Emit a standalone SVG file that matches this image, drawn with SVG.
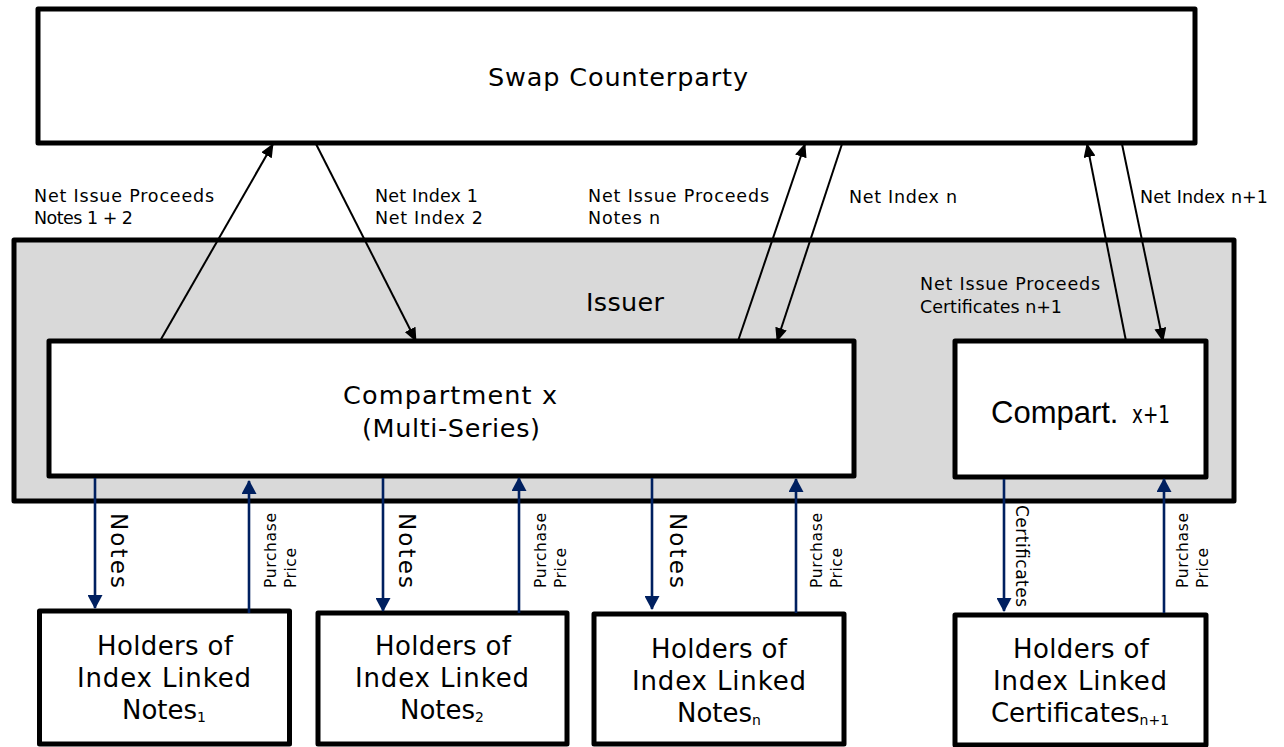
<svg xmlns="http://www.w3.org/2000/svg" width="1284" height="747" viewBox="0 0 1284 747">
<style>
.box{fill:#ffffff;stroke:#000000;stroke-width:5;stroke-linejoin:round}
.issuer{fill:#d9d9d9;stroke:#000000;stroke-width:5;stroke-linejoin:round}
.t{font-family:"DejaVu Sans","Noto Sans",sans-serif;fill:#000000}
.big{font-size:25.5px}
.hold{font-size:26px}
.lbl{font-size:17.5px}
.sm{font-size:15.5px}
.blk{stroke:#000000;stroke-width:2;fill:none}
.blu{stroke:#002060;stroke-width:2.6;fill:none}
</style>
<defs>
<marker id="ah" viewBox="0 0 14 12" markerWidth="14" markerHeight="12" refX="13" refY="6" orient="auto" markerUnits="userSpaceOnUse"><path d="M0,0 L14,6 L0,12 z" fill="#000000"/></marker>
<marker id="bh" viewBox="0 0 14 15" markerWidth="14" markerHeight="15" refX="13" refY="7.5" orient="auto" markerUnits="userSpaceOnUse"><path d="M0,0 L14,7.5 L0,15 z" fill="#002060"/></marker>
</defs>

<g id="swap">
<rect class="box" x="38" y="9" width="1157" height="134"/>
<text class="t big" x="618" y="86" text-anchor="middle" textLength="260" lengthAdjust="spacing">Swap Counterparty</text>
</g>

<g id="issuer">
<rect class="issuer" x="14" y="240" width="1220" height="261"/>
<text class="t big" x="625" y="311" text-anchor="middle" textLength="78" lengthAdjust="spacing">Issuer</text>
</g>

<g id="compartment-x">
<rect class="box" x="49" y="341" width="805" height="135"/>
<text class="t big" x="450" y="404" text-anchor="middle" textLength="214" lengthAdjust="spacing">Compartment x</text>
<text class="t big" x="451" y="437" text-anchor="middle" textLength="178" lengthAdjust="spacing">(Multi-Series)</text>
</g>

<g id="compartment-x1">
<rect class="box" x="955" y="341" width="251" height="136"/>
<text x="991" y="423" style="font-family:'Liberation Sans',Arial,sans-serif;font-size:31px" fill="#000000">Compart.</text>
<text class="t" x="1132" y="423" style="font-size:24px" textLength="38" lengthAdjust="spacingAndGlyphs">x+1</text>
</g>

<g id="holders-1">
<rect class="box" x="39.5" y="611" width="250" height="133"/>
<text class="t hold" x="165" y="655" text-anchor="middle" textLength="136" lengthAdjust="spacing">Holders of</text>
<text class="t hold" x="164" y="687" text-anchor="middle" textLength="174" lengthAdjust="spacing">Index Linked</text>
<text class="t hold" x="164" y="719" text-anchor="middle">Notes<tspan font-size="14" dy="3">1</tspan></text>
</g>

<g id="holders-2">
<rect class="box" x="318" y="613" width="249" height="131"/>
<text class="t hold" x="443" y="655" text-anchor="middle" textLength="136" lengthAdjust="spacing">Holders of</text>
<text class="t hold" x="442" y="687" text-anchor="middle" textLength="174" lengthAdjust="spacing">Index Linked</text>
<text class="t hold" x="442" y="719" text-anchor="middle">Notes<tspan font-size="14" dy="3">2</tspan></text>
</g>

<g id="holders-n">
<rect class="box" x="594" y="614" width="250" height="130"/>
<text class="t hold" x="719" y="658" text-anchor="middle" textLength="136" lengthAdjust="spacing">Holders of</text>
<text class="t hold" x="719" y="690" text-anchor="middle" textLength="174" lengthAdjust="spacing">Index Linked</text>
<text class="t hold" x="719" y="722" text-anchor="middle">Notes<tspan font-size="14" dy="3">n</tspan></text>
</g>

<g id="holders-n1">
<rect class="box" x="955" y="615" width="251" height="130"/>
<text class="t hold" x="1081" y="658" text-anchor="middle" textLength="136" lengthAdjust="spacing">Holders of</text>
<text class="t hold" x="1080" y="690" text-anchor="middle" textLength="174" lengthAdjust="spacing">Index Linked</text>
<text class="t hold" x="1080" y="722" text-anchor="middle">Certificates<tspan font-size="14" dy="3">n+1</tspan></text>
</g>

<g id="connectors">
<path class="blk" d="M160,341 L273,144" marker-end="url(#ah)"/>
<path class="blk" d="M316,144 L416,341" marker-end="url(#ah)"/>
<path class="blk" d="M738,341 L805,144" marker-end="url(#ah)"/>
<path class="blk" d="M842,144 L777,341" marker-end="url(#ah)"/>
<path class="blk" d="M1126,341 L1087,144" marker-end="url(#ah)"/>
<path class="blk" d="M1122,144 L1163,341" marker-end="url(#ah)"/>

<path class="blu" d="M95,478 L95,608" marker-end="url(#bh)"/>
<path class="blu" d="M249,613 L249,481" marker-end="url(#bh)"/>
<path class="blu" d="M383,478 L383,611" marker-end="url(#bh)"/>
<path class="blu" d="M519,613 L519,478" marker-end="url(#bh)"/>
<path class="blu" d="M652,478 L652,609" marker-end="url(#bh)"/>
<path class="blu" d="M796,613 L796,479" marker-end="url(#bh)"/>
<path class="blu" d="M1004,479 L1004,611" marker-end="url(#bh)"/>
<path class="blu" d="M1164,613 L1164,479" marker-end="url(#bh)"/>

<text class="t lbl" x="34" y="202" textLength="180" lengthAdjust="spacing">Net Issue Proceeds</text>
<text class="t lbl" x="34" y="224" textLength="99" lengthAdjust="spacing">Notes 1 + 2</text>
<text class="t lbl" x="375" y="202" textLength="103" lengthAdjust="spacing">Net Index 1</text>
<text class="t lbl" x="375" y="224" textLength="108" lengthAdjust="spacing">Net Index 2</text>
<text class="t lbl" x="588" y="202" textLength="181" lengthAdjust="spacing">Net Issue Proceeds</text>
<text class="t lbl" x="588" y="224" textLength="72" lengthAdjust="spacing">Notes n</text>
<text class="t lbl" x="849" y="203" textLength="108" lengthAdjust="spacing">Net Index n</text>
<text class="t lbl" x="1140" y="203" textLength="128" lengthAdjust="spacing">Net Index n+1</text>
<text class="t lbl" x="920" y="290" textLength="180" lengthAdjust="spacing">Net Issue Proceeds</text>
<text class="t lbl" x="920" y="313" textLength="142" lengthAdjust="spacing">Certificates n+1</text>

<text class="t" style="font-size:23px" transform="translate(111,513) rotate(90)" textLength="75" lengthAdjust="spacing">Notes</text>
<text class="t" style="font-size:23px" transform="translate(399,513) rotate(90)" textLength="75" lengthAdjust="spacing">Notes</text>
<text class="t" style="font-size:23px" transform="translate(670,513) rotate(90)" textLength="75" lengthAdjust="spacing">Notes</text>
<text class="t" style="font-size:17px" transform="translate(1016,505) rotate(90)" textLength="102" lengthAdjust="spacing">Certificates</text>

<text class="t sm" transform="translate(276,588) rotate(-90)" textLength="75" lengthAdjust="spacing">Purchase</text>
<text class="t sm" transform="translate(296,588) rotate(-90)" textLength="40" lengthAdjust="spacing">Price</text>
<text class="t sm" transform="translate(546,588) rotate(-90)" textLength="75" lengthAdjust="spacing">Purchase</text>
<text class="t sm" transform="translate(566,588) rotate(-90)" textLength="40" lengthAdjust="spacing">Price</text>
<text class="t sm" transform="translate(822,588) rotate(-90)" textLength="75" lengthAdjust="spacing">Purchase</text>
<text class="t sm" transform="translate(842,588) rotate(-90)" textLength="40" lengthAdjust="spacing">Price</text>
<text class="t sm" transform="translate(1188,588) rotate(-90)" textLength="75" lengthAdjust="spacing">Purchase</text>
<text class="t sm" transform="translate(1208,588) rotate(-90)" textLength="40" lengthAdjust="spacing">Price</text>
</g>
</svg>
